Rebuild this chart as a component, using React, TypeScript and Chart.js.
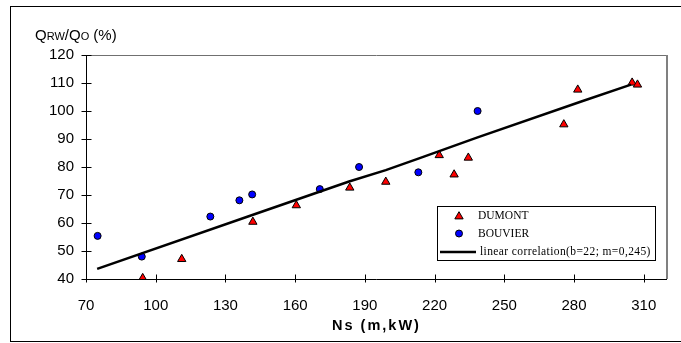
import React, { useEffect, useRef } from 'react';
import { Chart, registerables } from 'chart.js';
Chart.register(...registerables);

const dumontX = [94.4, 111.2, 141.8, 160.5, 183.5, 199, 222, 228.4, 234.5, 275.6, 281.6, 305, 307.3];
const dumontY = [40.3, 47.1, 60.4, 66.3, 72.6, 74.7, 84.2, 77.3, 83.3, 95.2, 107.6, 110.1, 109.4];
const bouvierX = [75, 94, 123.5, 136, 141.5, 170.6, 187.5, 213, 238.5];
const bouvierY = [55.4, 48, 62.3, 68.1, 70.2, 72.1, 80, 78.1, 100];
const corrX = [74.8, 142.8, 183.2, 199, 213.3, 238.5, 282.8, 304.5];
const corrY = [43.6, 63.2, 74.8, 78.9, 83.1, 90.6, 103.3, 109.4];
const xTicks = [70, 100, 130, 160, 190, 220, 250, 280, 310];
const yTicks = [40, 50, 60, 70, 80, 90, 100, 110, 120];
const legendLabels = ['DUMONT', 'BOUVIER', 'linear correlation(b=22; m=0,245)'];
const xTitle = 'Ns (m,kW)';

const pts = (xs: number[], ys: number[]) => xs.map((x, i) => ({ x, y: ys[i] }));

const SANS = "'Liberation Sans', Arial, sans-serif";
const SERIF = "'Liberation Serif', 'Times New Roman', serif";

const decor = {
  id: 'decor',
  beforeDraw(chart: any) {
    const { ctx, chartArea: a } = chart;
    ctx.save();
    ctx.fillStyle = '#fff';
    ctx.fillRect(0, 0, chart.width, chart.height);
    // outer border
    ctx.strokeStyle = '#000';
    ctx.lineWidth = 1;
    ctx.strokeRect(10.5, 6.5, 700, 335);
    // plot area border
    ctx.strokeStyle = '#707070';
    ctx.lineWidth = 1;
    ctx.beginPath();
    ctx.moveTo(a.left, a.top + 0.5);
    ctx.lineTo(a.right, a.top + 0.5);
    ctx.stroke();
    ctx.strokeStyle = '#808080';
    ctx.lineWidth = 2;
    ctx.beginPath();
    ctx.moveTo(a.right, a.top);
    ctx.lineTo(a.right, a.bottom);
    ctx.stroke();
    // axes
    ctx.strokeStyle = '#000';
    ctx.lineWidth = 1;
    const x0 = Math.round(a.left) + 0.5;
    const y0 = Math.round(a.bottom) + 0.5;
    ctx.beginPath();
    ctx.moveTo(x0, a.top);
    ctx.lineTo(x0, y0);
    ctx.lineTo(a.right, y0);
    ctx.stroke();
    const xs = chart.scales.x;
    const ys = chart.scales.y;
    ctx.beginPath();
    xTicks.forEach((v) => {
      const px = Math.round(xs.getPixelForValue(v)) + 0.5;
      ctx.moveTo(px, y0 - 5);
      ctx.lineTo(px, y0 + 3);
    });
    yTicks.forEach((v) => {
      const py = Math.round(ys.getPixelForValue(v)) + 0.5;
      ctx.moveTo(x0 - 5, py);
      ctx.lineTo(x0 + 5, py);
    });
    ctx.stroke();
    // y title  Q_RW/Q_O (%)
    ctx.fillStyle = '#000';
    ctx.textBaseline = 'alphabetic';
    ctx.textAlign = 'left';
    const parts: [string, number][] = [['Q', 15], ['RW', 11], ['/Q', 15], ['O', 11], [' (%)', 15]];
    let tx = 35;
    parts.forEach(([t, s]) => {
      ctx.font = `${s}px ${SANS}`;
      ctx.fillText(t, tx, 39.5);
      tx += ctx.measureText(t).width;
    });
    // x title
    ctx.font = `bold 14.5px ${SANS}`;
    (ctx as any).letterSpacing = '2px';
    ctx.textAlign = 'center';
    ctx.textBaseline = 'middle';
    ctx.fillText(xTitle, (a.left + a.right) / 2 + 0, 326);
    (ctx as any).letterSpacing = '0px';
    ctx.restore();
  },
  afterDatasetsDraw(chart: any) {
    const { ctx } = chart;
    ctx.save();
    ctx.fillStyle = '#fff';
    ctx.fillRect(437, 206, 218, 55);
    ctx.strokeStyle = '#000';
    ctx.lineWidth = 1;
    ctx.strokeRect(437.5, 206.5, 218, 54);
    const rowY = [215.5, 233.5, 252];
    // triangle
    ctx.fillStyle = '#ff0000';
    ctx.beginPath();
    const r = 4.8;
    const cx = 459, cy = rowY[0] + 1;
    ctx.moveTo(cx, cy - r);
    ctx.lineTo(cx + 0.866 * r, cy + 0.5 * r);
    ctx.lineTo(cx - 0.866 * r, cy + 0.5 * r);
    ctx.closePath();
    ctx.fill();
    ctx.stroke();
    // circle
    ctx.fillStyle = '#0000ff';
    ctx.beginPath();
    ctx.arc(459, rowY[1], 3.5, 0, Math.PI * 2);
    ctx.fill();
    ctx.stroke();
    // line
    ctx.lineWidth = 2.5;
    ctx.beginPath();
    ctx.moveTo(440, rowY[2]);
    ctx.lineTo(476, rowY[2]);
    ctx.stroke();
    ctx.fillStyle = '#000';
    ctx.font = `11.5px ${SERIF}`;
    ctx.textAlign = 'left';
    ctx.textBaseline = 'middle';
    ctx.fillText(legendLabels[0], 478, rowY[0]);
    ctx.fillText(legendLabels[1], 478, rowY[1]);
    (ctx as any).letterSpacing = '0.4px';
    ctx.fillText(legendLabels[2], 480, rowY[2]);
    (ctx as any).letterSpacing = '0px';
    ctx.restore();
  },
};

export default function App() {
  const ref = useRef<HTMLCanvasElement>(null);
  useEffect(() => {
    if (!ref.current) return;
    const chart = new Chart(ref.current, {
      type: 'scatter',
      data: {
        datasets: [
          {
            label: legendLabels[2],
            data: pts(corrX, corrY),
            showLine: true,
            borderColor: '#000',
            borderWidth: 2.5,
            pointRadius: 0,
            tension: 0,
            order: 0,
          } as any,
          {
            label: legendLabels[1],
            data: pts(bouvierX, bouvierY),
            pointStyle: 'circle',
            pointRadius: 3.5,
            backgroundColor: '#0000ff',
            borderColor: '#000',
            borderWidth: 1,
            order: 1,
          },
          {
            label: legendLabels[0],
            data: pts(dumontX, dumontY),
            pointStyle: 'triangle',
            pointRadius: 4.8,
            backgroundColor: '#ff0000',
            borderColor: '#000',
            borderWidth: 1,
            order: 2,
          },
        ],
      },
      options: {
        animation: false,
        responsive: false,
        layout: { padding: { left: 0, top: 55, right: 14, bottom: 0 } },
        plugins: { legend: { display: false }, tooltip: { enabled: false } },
        scales: {
          x: {
            type: 'linear',
            min: 70,
            max: 320,
            grid: { display: false, drawTicks: false },
            border: { display: false },
            afterBuildTicks: (s: any) => {
              s.ticks = xTicks.map((v) => ({ value: v }));
            },
            afterFit: (s: any) => {
              s.height = 64;
            },
            ticks: { color: '#000', font: { family: SANS, size: 15 }, padding: 18, maxRotation: 0, autoSkip: false },
          },
          y: {
            type: 'linear',
            min: 40,
            max: 120,
            grid: { display: false, drawTicks: false },
            border: { display: false },
            afterBuildTicks: (s: any) => {
              s.ticks = yTicks.map((v) => ({ value: v }));
            },
            afterFit: (s: any) => {
              s.width = 86;
            },
            ticks: { color: '#000', font: { family: SANS, size: 15 }, padding: 12, autoSkip: false },
          },
        },
      },
      plugins: [decor],
    });
    return () => chart.destroy();
  }, []);
  return (
    <div style={{ position: 'fixed', left: 0, top: 0, width: 681, height: 343, background: '#fff' }}>
      <canvas ref={ref} width={681} height={343} style={{ width: 681, height: 343, display: 'block' }} />
    </div>
  );
}
